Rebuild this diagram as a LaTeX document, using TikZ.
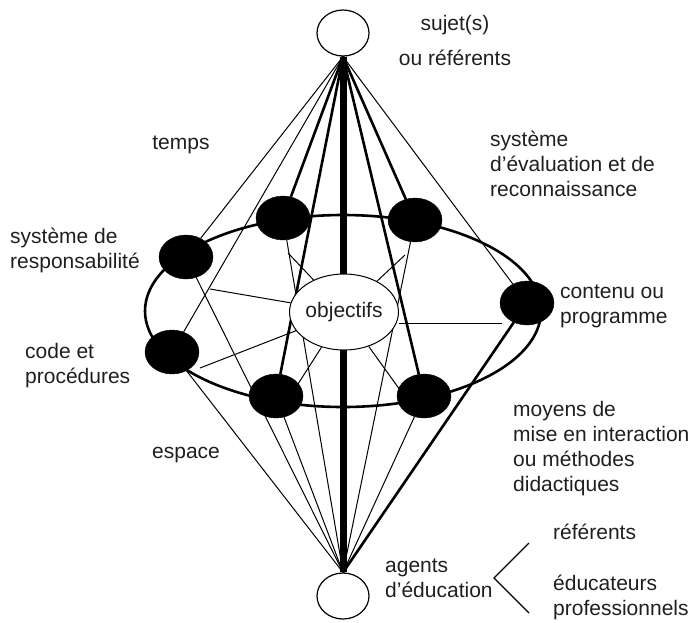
\documentclass[tikz,border=0pt]{standalone}
\usepackage{fontspec}
\setmainfont{Liberation Sans}
\usetikzlibrary{shapes.geometric,backgrounds}
\begin{document}
\begin{tikzpicture}[x=1pt,y=-1pt,
  blk/.style={ellipse,fill=black,draw=black,minimum width=54pt,minimum height=44pt,inner sep=0pt},
  wht/.style={ellipse,fill=white,draw=black,line width=1.2pt,minimum width=52pt,minimum height=46pt,inner sep=0pt},
  lbl/.style={font=\fontsize{21}{25}\selectfont,inner sep=0pt,align=left,anchor=west,text=black!88},
  lnthin/.style={line width=1pt},
  lnthick/.style={line width=2.6pt},
  lncore/.style={line width=7pt},
  spoke/.style={line width=1pt}]
\useasboundingbox (0,0) rectangle (692,622);

% main nodes
\node[wht] (T) at (343,33) {};
\node[wht] (B) at (343,596) {};
\node[ellipse,draw=black,fill=white,line width=1pt,minimum width=98pt,minimum height=76pt,inner sep=0pt,
      font=\fontsize{21}{25}\selectfont,text=black!88] (O) at (344,312) {objectifs};
\node[blk] (TL) at (283,218) {};
\node[blk] (TR) at (415,220) {};
\node[blk] (R)  at (186,257) {};
\node[blk] (C)  at (172,352) {};
\node[blk] (BL) at (276,396) {};
\node[blk] (BR) at (424,396) {};
\node[blk] (K)  at (527,303) {};

\begin{pgfonlayer}{background}
  \draw[lnthick] (343,311) ellipse [x radius=198, y radius=96];
  \draw[lncore] (T.south) -- (B.north);
  % from top circle
  \draw[lnthin]  (T.south) -- (R);
  \draw[lnthin]  (T.south) -- (C);
  \draw[lnthick] (T.south) -- (TL);
  \draw[lnthick] (T.south) -- (BL);
  \draw[lnthick] (T.south) -- (BR);
  \draw[lnthick] (T.south) -- (TR);
  \draw[lnthin]  (T.south) -- (K);
  % to bottom circle
  \draw[lnthin]  (B.north) -- (C);
  \draw[lnthin]  (B.north) -- (R);
  \draw[lnthin]  (B.north) -- (BL);
  \draw[lnthin]  (B.north) -- (TL);
  \draw[lnthin]  (B.north) -- (TR);
  \draw[lnthin]  (B.north) -- (BR);
  \draw[lnthick] (B.north) -- (K);
\end{pgfonlayer}

% spokes from objectifs
\coordinate (sTL) at (288,253);
\coordinate (sTR) at (405,255);
\coordinate (sR)  at (210,289);
\coordinate (sC)  at (200,368);
\coordinate (sK)  at (502,323);
\coordinate (sBL) at (298,384);
\coordinate (sBR) at (400,390);
\draw[spoke] (O) -- (sTL);
\draw[spoke] (O) -- (sTR);
\draw[spoke] (O) -- (sR);
\draw[spoke] (O) -- (sC);
\draw[spoke] (sK -| O.east) -- (sK);
\draw[spoke] (O) -- (sBL);
\draw[spoke] (O) -- (sBR);

% labels
\node[lbl,align=center,anchor=center] (Lsuj) at (455,40) {sujet(s)\\[10pt]ou référents};
\node[lbl,anchor=center] (Ltemps) at (181,145) {temps};
\node[lbl] (Leval) at (490,164) {système\\d’évaluation et de\\reconnaissance};
\node[lbl] (Lresp) at (10,250) {système de\\responsabilité};
\node[lbl] (Lcont) at (560,306) {contenu ou\\programme};
\node[lbl] (Lcode) at (25,366) {code et\\procédures};
\node[lbl] (Lmoy) at (513,449) {moyens de\\mise en interaction\\ou méthodes\\didactiques};
\node[lbl] (Lesp) at (152,455) {espace};
\node[lbl] (Lag) at (385,578) {agents\\d’éducation};
\node[lbl] (Lref) at (553,532) {référents};
\node[lbl] (Ledu) at (553,597) {éducateurs\\professionnels};

% bracket
\coordinate (bv) at (494,578);
\coordinate (bu) at (529,543);
\coordinate (bd) at (529,613);
\draw[line width=1.1pt] (bu) -- (bv) -- (bd);
\end{tikzpicture}
\end{document}
